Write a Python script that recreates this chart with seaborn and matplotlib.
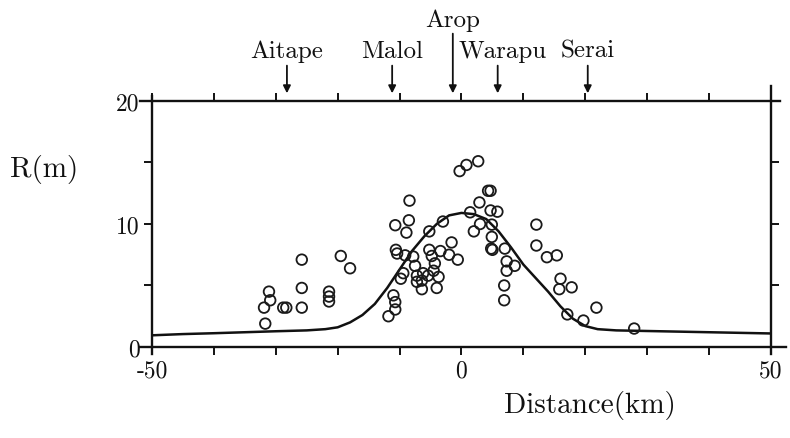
import matplotlib
matplotlib.use("Agg")
import matplotlib.pyplot as plt
import seaborn as sns
import pandas as pd

# runup observations (distance km, runup m)
obs_x = [-31.7, -31.9, -30.9, -31.1, -28.8, -28.3, -25.8, -25.8, -25.8, -21.4, -21.4, -21.4, -19.5, -18.0,
         -11.8, -10.7, -10.7, -11.0, -10.7, -8.4, -8.5, -8.9, -10.6, -10.4, -9.1, -7.8, -7.5, -9.4, -9.8,
         -7.2, -6.4, -4.0, -7.2, -6.2, -5.4, -6.4, -3.7, -4.5, -4.3, -5.2, -3.0, -1.6, -5.2, -4.8, -3.4,
         -2.0, -0.6,
         -0.3, 0.8, 2.7, 4.3, 4.7, 2.9, 1.4, 4.7, 5.8, 3.0, 2.0, 4.9, 4.9, 4.8, 5.0, 7.0, 7.3, 8.6, 7.3,
         6.9, 6.9,
         12.1, 12.1, 13.8, 15.4, 16.0, 15.8, 17.8, 17.1, 19.7, 21.8, 27.9]
obs_r = [1.9, 3.2, 3.8, 4.5, 3.2, 3.2, 3.2, 4.8, 7.1, 3.7, 4.1, 4.5, 7.4, 6.4,
         2.5, 3.05, 3.65, 4.2, 9.9, 11.9, 10.3, 9.3, 7.9, 7.6, 7.45, 7.35, 6.6, 6.0, 5.55,
         5.3, 4.7, 4.8, 5.8, 6.0, 5.8, 5.4, 5.7, 6.2, 6.8, 9.4, 10.2, 8.5, 7.9, 7.4, 7.8,
         7.5, 7.1,
         14.3, 14.8, 15.1, 12.7, 12.7, 11.75, 10.95, 11.1, 11.0, 10.0, 9.4, 9.95, 8.95, 8.0, 7.9, 8.0, 6.96, 6.6, 6.2,
         5.0, 3.8,
         9.95, 8.25, 7.3, 7.45, 5.55, 4.7, 4.85, 2.65, 2.15, 3.2, 1.5]

# model curve
curve_x = [-50, -45, -40, -35, -30, -25, -22, -20, -18, -16, -14, -12, -10, -8, -6, -4, -2, 0,
           2, 4, 6, 8, 10, 12, 14, 16, 18, 20, 22, 25, 30, 35, 40, 45, 50]
curve_r = [0.95, 1.05, 1.12, 1.2, 1.28, 1.35, 1.45, 1.6, 2.0, 2.6, 3.5, 4.8, 6.3, 7.8, 9.0, 10.0, 10.7, 10.9,
           10.8, 10.4, 9.4, 8.1, 6.7, 5.6, 4.5, 3.3, 2.3, 1.7, 1.45, 1.35, 1.3, 1.25, 1.2, 1.15, 1.1]

stations = ["Aitape", "Malol", "Arop", "Warapu", "Serai"]
station_x = [-28.2, -11.2, -1.4, 5.85, 20.4]
label_x = [-28.2, -11.2, -1.5, 6.6, 20.4]

sns.set_style("ticks")
plt.rcParams["font.family"] = ["cmr10", "DejaVu Serif"]
plt.rcParams["axes.unicode_minus"] = False
plt.rcParams["axes.linewidth"] = 1.7

fig = plt.figure(figsize=(7.9, 4.39), dpi=100)
ax = fig.add_axes([0.1924, 0.2073, 0.7835, 0.5604])

df_obs = pd.DataFrame({"x": obs_x, "r": obs_r})
df_curve = pd.DataFrame({"x": curve_x, "r": curve_r})

sns.lineplot(data=df_curve, x="x", y="r", ax=ax, color="#111111", linewidth=1.8)
sns.scatterplot(data=df_obs, x="x", y="r", ax=ax, marker="o", s=58,
                facecolor="none", edgecolor="#1a1a1a", linewidth=1.3, zorder=3)

ax.set_xlim(-50, 50)
ax.set_ylim(0, 20)
ax.set_xticks(range(-50, 51, 10))
ax.set_xticklabels(["-50", "", "", "", "", "0", "", "", "", "", "50"])
ax.set_yticks([0, 5, 10, 15, 20])
ax.set_yticklabels(["0", "", "10", "", "20"])
ax.tick_params(direction="out", length=6, width=1.4, labelsize=17, colors="#111111",
               top=True, right=True, pad=3)
ax.set_xlabel("")
ax.set_ylabel("")
for side in ["top", "bottom", "left", "right"]:
    ax.spines[side].set_visible(True)
    ax.spines[side].set_color("#111111")
ax.spines["top"].set_bounds(-52, 51.5)
ax.spines["bottom"].set_bounds(-52, 52.5)
ax.spines["left"].set_bounds(-0.6, 20.4)
ax.spines["right"].set_bounds(-0.6, 21.2)

fig.text(0.013, 0.615, "R(m)", fontsize=21, ha="left", va="center", color="#111111")
fig.text(0.747, 0.077, "Distance(km)", fontsize=21, ha="center", va="center", color="#111111")

for name, sx, lx in zip(stations, station_x, label_x):
    if name == "Arop":
        top, ty = 25.7, 26.6
    else:
        top, ty = 23.1, 24.1
    ax.annotate("", xy=(sx, 20.4), xytext=(sx, top), xycoords="data",
                arrowprops=dict(arrowstyle="-|>", color="#111111", lw=1.3, mutation_scale=11),
                annotation_clip=False)
    ax.text(lx, ty, name, fontsize=18, ha="center", va="center", color="#111111", clip_on=False)

fig.savefig("out.png", dpi=100)
